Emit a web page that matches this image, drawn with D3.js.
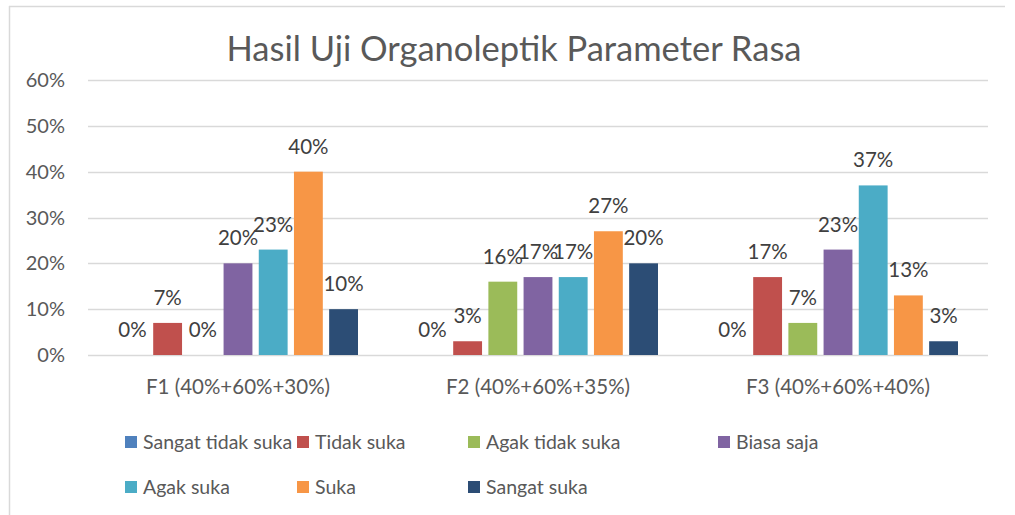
<!DOCTYPE html>
<html lang="id">
  <head>
    <meta charset="UTF-8" />
    <title>Hasil Uji Organoleptik Parameter Rasa</title>
    <script src="https://d3js.org/d3.v7.min.js"></script>
    <style>
      body {
        margin: 0;
        background: #fff;
        font-family: Lato, "Noto Sans", sans-serif;
      }
      svg text {
        fill: #595959;
      }
    </style>
  </head>
  <body>
    <svg width="1015" height="515"></svg>

    <script>
      const categories = [
        "F1 (40%+60%+30%)",
        "F2 (40%+60%+35%)",
        "F3 (40%+60%+40%)",
      ];
      const seriesNames = [
        "Sangat tidak suka",
        "Tidak suka",
        "Agak tidak suka",
        "Biasa saja",
        "Agak suka",
        "Suka",
        "Sangat suka",
      ];
      // nilai per seri, urutan sama dengan categories
      const sangatTidakSuka = [0, 0, 0];
      const tidakSuka = [0.07, 0.03, 0.17];
      const agakTidakSuka = [0, 0.16, 0.07];
      const biasaSaja = [0.2, 0.17, 0.23];
      const agakSuka = [0.23, 0.17, 0.37];
      const suka = [0.4, 0.27, 0.13];
      const sangatSuka = [0.1, 0.2, 0.03];
      const yTicks = [0, 0.1, 0.2, 0.3, 0.4, 0.5, 0.6];

      const seriesValues = [
        sangatTidakSuka,
        tidakSuka,
        agakTidakSuka,
        biasaSaja,
        agakSuka,
        suka,
        sangatSuka,
      ];
      const colors = [
        "#4f81bd",
        "#c0504d",
        "#9bbb59",
        "#8064a2",
        "#4bacc6",
        "#f79646",
        "#2c4d75",
      ];

      const svg = d3.select("svg");
      const fmt = d3.format(".0%");

      // bingkai grafik (hanya kiri dan atas yang terlihat)
      svg.append("line").attr("x1", 9).attr("x2", 1005).attr("y1", 6.5).attr("y2", 6.5)
        .attr("stroke", "#d9d9d9").attr("stroke-width", 1.5);
      svg.append("line").attr("x1", 9.5).attr("x2", 9.5).attr("y1", 6).attr("y2", 515)
        .attr("stroke", "#d9d9d9").attr("stroke-width", 1.5);

      // judul
      svg.append("text")
        .attr("x", 514)
        .attr("y", 61)
        .attr("text-anchor", "middle")
        .style("font-size", "34.5px")
        .text("Hasil Uji Organoleptik Parameter Rasa");

      const x0 = d3.scaleBand().domain(categories).range([88, 988]);
      const x1 = d3.scaleBand()
        .domain(seriesNames)
        .range([30, x0.bandwidth() - 30])
        .paddingInner(0.18);
      const y = d3.scaleLinear().domain([0, 0.6]).range([355, 80]);

      // garis grid
      svg.append("g")
        .selectAll("line")
        .data(yTicks)
        .join("line")
        .attr("x1", 88)
        .attr("x2", 988)
        .attr("y1", (d) => Math.round(y(d)) + 0.5)
        .attr("y2", (d) => Math.round(y(d)) + 0.5)
        .attr("stroke", "#d9d9d9")
        .attr("stroke-width", 1.5);

      // label sumbu y
      svg.append("g")
        .selectAll("text")
        .data(yTicks)
        .join("text")
        .attr("x", 65)
        .attr("y", (d) => y(d))
        .attr("dy", "0.35em")
        .attr("text-anchor", "end")
        .style("font-size", "20px")
        .text((d) => fmt(d));

      // label kategori
      svg.append("g")
        .selectAll("text")
        .data(categories)
        .join("text")
        .attr("x", (d) => x0(d) + x0.bandwidth() / 2)
        .attr("y", 394)
        .attr("text-anchor", "middle")
        .style("font-size", "20.5px")
        .text((d) => d);

      // batang
      const rows = [];
      categories.forEach((c, ci) => {
        seriesNames.forEach((s, si) => {
          rows.push({ cat: c, series: s, value: seriesValues[si][ci], color: colors[si] });
        });
      });

      svg.append("g")
        .selectAll("rect")
        .data(rows)
        .join("rect")
        .attr("x", (d) => x0(d.cat) + x1(d.series))
        .attr("y", (d) => y(d.value))
        .attr("width", x1.bandwidth())
        .attr("height", (d) => y(0) - y(d.value))
        .attr("fill", (d) => d.color);

      // label data
      svg.append("g")
        .selectAll("text")
        .data(rows)
        .join("text")
        .attr("x", (d) => x0(d.cat) + x1(d.series) + x1.bandwidth() / 2)
        .attr("y", (d) => y(d.value) - 18)
        .attr("text-anchor", "middle")
        .style("font-size", "20.5px")
        .style("fill", "#404040")
        .text((d) => fmt(d.value));

      // legenda
      const legendPos = [
        [125, 442], [297, 442], [468, 442], [718, 442],
        [125, 487], [297, 487], [468, 487],
      ];
      const legend = svg.append("g")
        .selectAll("g")
        .data(seriesNames)
        .join("g")
        .attr("transform", (d, i) => `translate(${legendPos[i][0]},${legendPos[i][1]})`);

      legend.append("rect")
        .attr("x", 0)
        .attr("y", -6)
        .attr("width", 12)
        .attr("height", 12)
        .attr("fill", (d, i) => colors[i]);

      legend.append("text")
        .attr("x", 18)
        .attr("y", 0)
        .attr("dy", "0.35em")
        .style("font-size", "19.5px")
        .text((d) => d);
    </script>
  </body>
</html>
